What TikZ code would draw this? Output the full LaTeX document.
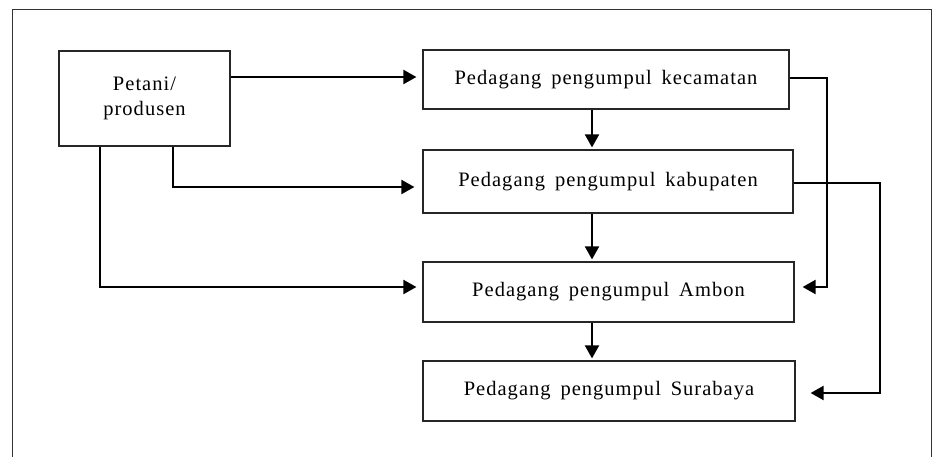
\documentclass[tikz,border=0pt]{standalone}
\usepackage{fontspec}
\setmainfont[LetterSpace=5,WordSpace=1.6]{Liberation Serif}
\usetikzlibrary{arrows.meta,calc}
\begin{document}
\begin{tikzpicture}[x=1pt,y=-1pt,
  box/.style={draw=black!85,line width=1.2pt,minimum width=#1,inner sep=0pt,font=\fontsize{20.5}{25}\selectfont,align=center},
  conn/.style={line width=2pt,-{Triangle[length=13pt,width=14pt]}},
  frameline/.style={line width=1pt,draw=black!80}]
\useasboundingbox (0,0) rectangle (936,457);
\draw[frameline] (12.5,457) -- (12.5,10) -- (931.5,10) -- (931.5,457);
\node[box=171pt,minimum height=95pt] (pet) at (144.5,98.5) {Petani/\\produsen};
\node[box=366pt,minimum height=59pt] (kec) at (606,79.5) {Pedagang pengumpul kecamatan};
\node[box=370pt,minimum height=63pt] (kab) at (608,181.5) {Pedagang pengumpul kabupaten};
\node[box=371pt,minimum height=60pt] (amb) at (608.5,292) {Pedagang pengumpul Ambon};
\node[box=372pt,minimum height=60pt] (sur) at (609,391) {Pedagang pengumpul Surabaya};
% turning points
\coordinate (c1) at (230,77);
\coordinate (c2) at (173,187);
\coordinate (c3) at (100,287);
\coordinate (c4) at (827,78);
\coordinate (c5) at (880,183);
\coordinate (dx) at (592,0);
% petani connectors
\draw[conn,shorten >=6pt] (pet.east |- c1) -- (c1 -| kec.west);
\draw[conn,shorten >=8pt] (pet.south -| c2) -- (c2) -- (c2 -| kab.west);
\draw[conn,shorten >=6pt] (pet.south -| c3) -- (c3) -- (c3 -| amb.west);
% vertical chain
\draw[conn,shorten >=2pt] (kec.south -| dx) -- (kab.north -| dx);
\draw[conn,shorten >=2pt] (kab.south -| dx) -- (amb.north -| dx);
\draw[conn,shorten >=2pt] (amb.south -| dx) -- (sur.north -| dx);
% right side bypasses
\draw[conn,shorten >=8pt] (kec.east |- c4) -- (c4) -- (c4 |- c3) -- (c3 -| amb.east);
\draw[conn,shorten >=15pt] (kab.east |- c5) -- (c5) -- (880,393) -- (sur.east |- 0,393);
\end{tikzpicture}
\end{document}
